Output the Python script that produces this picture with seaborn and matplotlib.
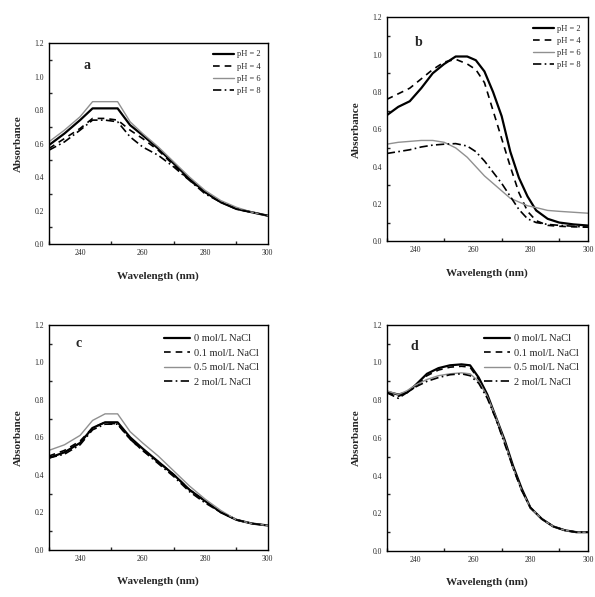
import numpy as np
import pandas as pd
import matplotlib
matplotlib.use("Agg")
import matplotlib.pyplot as plt
import seaborn as sns
from matplotlib.ticker import MultipleLocator

sns.set_theme(style="white")
plt.rcParams['font.family'] = ['Liberation Serif', 'DejaVu Serif']
plt.rcParams['xtick.direction'] = 'in'
plt.rcParams['ytick.direction'] = 'in'

# wavelength grid (nm)
wl = [230, 235, 240, 244, 248, 252, 256, 260, 265, 270, 275, 280, 285, 290, 295, 300]

# panel a - pH
a_ph2 = [0.59, 0.66, 0.74, 0.81, 0.81, 0.81, 0.71, 0.65, 0.57, 0.48, 0.39, 0.31, 0.25, 0.21, 0.19, 0.17]
a_ph4 = [0.57, 0.63, 0.69, 0.75, 0.75, 0.74, 0.68, 0.63, 0.56, 0.47, 0.38, 0.31, 0.25, 0.21, 0.19, 0.17]
a_ph6 = [0.61, 0.68, 0.76, 0.85, 0.85, 0.85, 0.73, 0.66, 0.58, 0.49, 0.40, 0.32, 0.26, 0.22, 0.19, 0.17]
a_ph8 = [0.56, 0.61, 0.68, 0.74, 0.74, 0.73, 0.64, 0.58, 0.53, 0.46, 0.38, 0.30, 0.25, 0.21, 0.19, 0.17]

# panel b - pH
b_wl = [230, 234, 238, 242, 246, 250, 254, 258, 261, 264, 267, 270, 273, 276, 279, 282, 286, 290, 295, 300]
b_ph2 = [0.675, 0.72, 0.75, 0.82, 0.90, 0.95, 0.99, 0.99, 0.97, 0.91, 0.80, 0.67, 0.48, 0.34, 0.24, 0.165, 0.12, 0.10, 0.09, 0.084]
b_ph4 = [0.76, 0.79, 0.82, 0.87, 0.92, 0.96, 0.975, 0.95, 0.92, 0.85, 0.70, 0.55, 0.40, 0.26, 0.16, 0.11, 0.085, 0.08, 0.077, 0.075]
b_ph6 = [0.52, 0.53, 0.535, 0.54, 0.54, 0.53, 0.50, 0.45, 0.40, 0.35, 0.31, 0.27, 0.23, 0.21, 0.19, 0.18, 0.165, 0.16, 0.155, 0.15]
b_ph8 = [0.47, 0.48, 0.49, 0.505, 0.515, 0.52, 0.523, 0.51, 0.48, 0.43, 0.37, 0.31, 0.24, 0.17, 0.12, 0.10, 0.09, 0.085, 0.08, 0.075]

# panel c - NaCl
c_nacl0 = [0.49, 0.52, 0.57, 0.65, 0.68, 0.68, 0.60, 0.54, 0.47, 0.40, 0.32, 0.26, 0.20, 0.16, 0.14, 0.13]
c_nacl01 = [0.50, 0.53, 0.58, 0.65, 0.68, 0.67, 0.59, 0.53, 0.47, 0.40, 0.32, 0.26, 0.20, 0.16, 0.14, 0.13]
c_nacl05 = [0.53, 0.56, 0.61, 0.69, 0.725, 0.725, 0.63, 0.57, 0.50, 0.42, 0.34, 0.27, 0.21, 0.16, 0.14, 0.13]
c_nacl2 = [0.49, 0.51, 0.56, 0.64, 0.67, 0.67, 0.59, 0.53, 0.46, 0.39, 0.31, 0.25, 0.20, 0.16, 0.14, 0.13]

# panel d - NaCl
d_wl = [230, 234, 237, 240, 244, 248, 252, 256, 259, 262, 265, 268, 271, 274, 277, 280, 284, 288, 292, 296, 300]
d_nacl0 = [0.845, 0.83, 0.84, 0.88, 0.94, 0.97, 0.985, 0.99, 0.985, 0.92, 0.83, 0.71, 0.59, 0.45, 0.33, 0.23, 0.17, 0.13, 0.11, 0.10, 0.10]
d_nacl01 = [0.84, 0.82, 0.84, 0.87, 0.93, 0.96, 0.975, 0.98, 0.975, 0.91, 0.82, 0.70, 0.58, 0.44, 0.32, 0.23, 0.17, 0.13, 0.11, 0.10, 0.10]
d_nacl05 = [0.85, 0.83, 0.85, 0.88, 0.91, 0.93, 0.94, 0.945, 0.94, 0.90, 0.82, 0.71, 0.58, 0.44, 0.32, 0.23, 0.17, 0.13, 0.11, 0.10, 0.10]
d_nacl2 = [0.84, 0.81, 0.84, 0.87, 0.90, 0.92, 0.935, 0.94, 0.93, 0.89, 0.81, 0.70, 0.57, 0.44, 0.32, 0.23, 0.17, 0.13, 0.11, 0.10, 0.10]

ph_labels = ['pH = 2', 'pH = 4', 'pH = 6', 'pH = 8']
nacl_labels = ['0 mol/L NaCl', '0.1 mol/L NaCl', '0.5 mol/L NaCl', '2 mol/L NaCl']

styles = [('black', '-', 1.6), ('black', (0, (4, 3)), 1.2), ('#909090', '-', 1.0), ('black', (0, (5, 2, 1, 2)), 1.2)]

fig = plt.figure(figsize=(5.95, 5.97), dpi=100)
pos = {'a': [0.082, 0.591, 0.368, 0.337],
       'b': [0.650, 0.596, 0.338, 0.375],
       'c': [0.082, 0.079, 0.368, 0.377],
       'd': [0.650, 0.077, 0.338, 0.379]}
letter_xy = {'a': (0.16, 0.87), 'b': (0.14, 0.87), 'c': (0.12, 0.9), 'd': (0.12, 0.89)}

panels = [('a', wl, [a_ph2, a_ph4, a_ph6, a_ph8], ph_labels, 6),
          ('b', b_wl, [b_ph2, b_ph4, b_ph6, b_ph8], ph_labels, 6),
          ('c', wl, [c_nacl0, c_nacl01, c_nacl05, c_nacl2], nacl_labels, 7.5),
          ('d', d_wl, [d_nacl0, d_nacl01, d_nacl05, d_nacl2], nacl_labels, 7.5)]

for name, x, ys, labs, lfs in panels:
    ax = fig.add_axes(pos[name])
    for y, lab, (col, ls, lw) in zip(ys, labs, styles):
        sns.lineplot(x=x, y=y, ax=ax, color=col, linestyle=ls, linewidth=lw, label=lab)
    ax.set_xlim(230, 300)
    ax.set_ylim(0, 1.2)
    ax.set_xticks([240, 260, 280, 300])
    ax.xaxis.set_minor_locator(MultipleLocator(10))
    ax.yaxis.set_major_locator(MultipleLocator(0.2))
    ax.yaxis.set_minor_locator(MultipleLocator(0.1))
    ax.tick_params(which='both', direction='in', labelsize=5.5, top=False, right=False)
    ax.tick_params(which='major', length=3)
    ax.tick_params(which='minor', length=2, bottom=True, left=True)
    for s in ax.spines.values():
        s.set_color('black')
        s.set_linewidth(1.0)
    ax.set_xlabel('Wavelength (nm)', fontsize=8, fontweight='bold', labelpad=10)
    ax.set_ylabel('Absorbance', fontsize=8, fontweight='bold', labelpad=8)
    ax.text(letter_xy[name][0], letter_xy[name][1], name, transform=ax.transAxes,
            fontsize=10, fontweight='bold')
    ax.legend(loc='upper right', frameon=False, fontsize=lfs, handlelength=2.5,
              labelspacing=0.5, borderaxespad=0.5, handletextpad=0.3)

fig.savefig('out.png', dpi=100)
